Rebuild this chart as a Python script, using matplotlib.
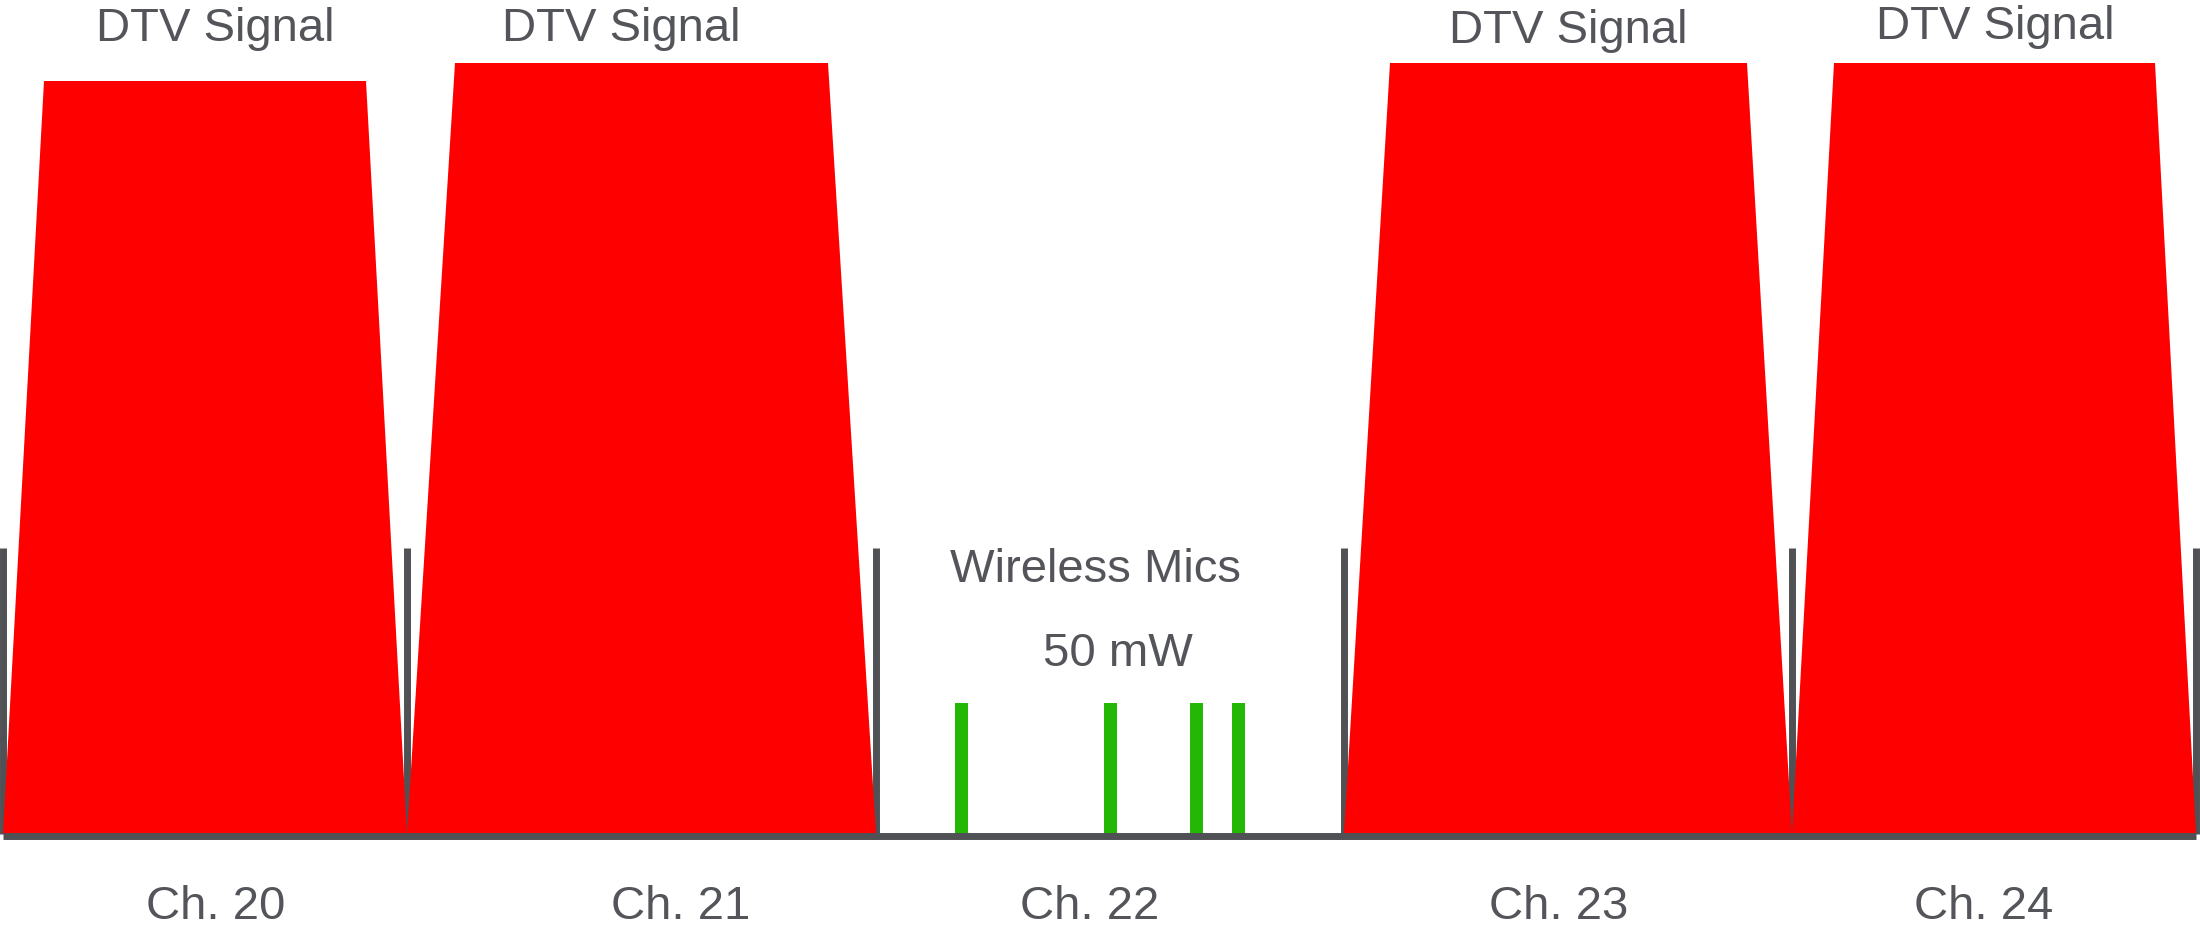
import matplotlib.pyplot as plt

plt.rcParams['font.family'] = ['Liberation Sans', 'DejaVu Sans']

# channel layout (horizontal position units, baseline at level 0)
ch_names = ['Ch. 20', 'Ch. 21', 'Ch. 22', 'Ch. 23', 'Ch. 24']
ch_edges = [3, 407, 876, 1344, 1792, 2196]
ch_label_x = [216, 681, 1090, 1559, 1984]

# DTV signals occupy every channel except Ch. 22
dtv_channels = [0, 1, 3, 4]
dtv_top_left = [44, 455, 1390, 1834]
dtv_top_right = [366, 828, 1747, 2155]
dtv_level = [753, 771, 771, 771]
dtv_label_x = [215, 621, 1568, 1995]
dtv_label_y = [793, 793, 791, 795]

# wireless mic carriers in the empty channel
mic_pos = [961, 1110, 1196, 1238]
mic_level = [131, 131, 131, 131]

divider_height = 286

text_color = '#53555a'
line_color = '#505155'

fig = plt.figure(figsize=(22, 9.3), dpi=100)
ax = fig.add_axes([0, 0, 1, 1])
ax.set_xlim(0, 2200)
ax.set_ylim(-96, 834)
ax.axis('off')

# channel dividers
ax.vlines(ch_edges, 0, divider_height, colors=line_color, linewidth=5, zorder=1)

# DTV trapezoids
for i, ch in enumerate(dtv_channels):
    xs = [ch_edges[ch], dtv_top_left[i], dtv_top_right[i], ch_edges[ch + 1]]
    ys = [0, dtv_level[i], dtv_level[i], 0]
    ax.fill(xs, ys, color='#ff0000', linewidth=0, zorder=2)
    ax.text(dtv_label_x[i], dtv_label_y[i], 'DTV Signal', ha='center', va='baseline',
            fontsize=34, color=text_color)

# mic carriers
ax.bar(mic_pos, mic_level, width=13, color='#24b705', zorder=2)
ax.text(1096, 834 - 582, 'Wireless Mics', ha='center', va='baseline', fontsize=34, color=text_color)
ax.text(1118, 834 - 666, '50 mW', ha='center', va='baseline', fontsize=34, color=text_color)

# baseline
ax.hlines(-2, ch_edges[0], ch_edges[-1], colors=line_color, linewidth=5, zorder=3)

for name, x in zip(ch_names, ch_label_x):
    ax.text(x, 834 - 919, name, ha='center', va='baseline', fontsize=34, color=text_color)

fig.savefig('out.png')
